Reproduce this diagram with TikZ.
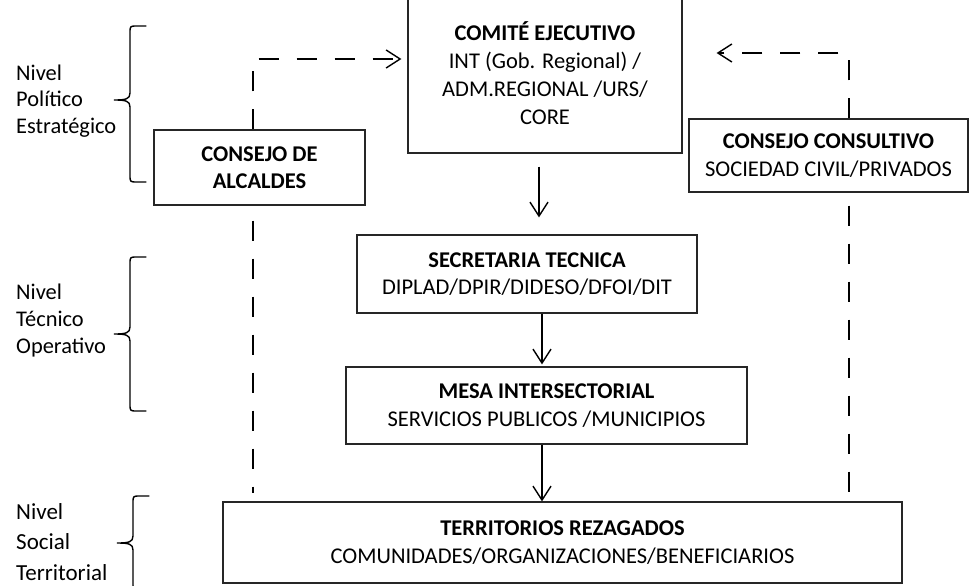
\documentclass[tikz,border=0pt]{standalone}
\usepackage{fontspec}
\setmainfont{Carlito}
\usetikzlibrary{arrows.meta}
\newcommand\drawlevelbrace[3]{%
  \draw[bracestyle] (146,#1) -- (137,#1) .. controls (130,#1) .. (130,#1+7)
    -- (130,#2-7) .. controls (130,#2-1) and (126,#2) .. (114,#2)
    .. controls (126,#2) and (130,#2+1) .. (130,#2+7)
    -- (130,#3-7) .. controls (130,#3) .. (137,#3) -- (146,#3);}
\begin{document}
\begin{tikzpicture}[x=1pt,y=-1pt,
  box/.style={draw=black!85, line width=1.2pt, align=center, inner sep=0pt,
    font=\fontsize{22.5}{27.5}\selectfont},
  lvl/.style={align=left, inner sep=0pt, anchor=base west,
    font=\fontsize{22.4}{26.5}\selectfont},
  tip/.style={-{Straight Barb[length=14pt,width=18pt]}},
  flow/.style={line width=1.4pt, tip},
  dashline/.style={line width=1.4pt, dash pattern=on 20pt off 18pt},
  bracestyle/.style={line width=1.4pt, line cap=round}]
\useasboundingbox (0,0) rectangle (969,586);
\fill[white] (0,0) rectangle (969,586);
\clip (0,0) rectangle (969,586);

% boxes
\node[box, minimum width=274pt, minimum height=160pt, font=\fontsize{22.5}{28}\selectfont] (comite) at (545,73)
  {\textbf{COMITÉ EJECUTIVO}\\INT (Gob. Regional) /\\ADM.REGIONAL /URS/\\CORE};
\node[box, minimum width=211pt, minimum height=75pt] (alc) at (259.5,167.5)
  {\textbf{CONSEJO DE}\\\textbf{ALCALDES}};
\node[box, minimum width=279pt, minimum height=73pt] (cons) at (828.5,155.5)
  {\textbf{CONSEJO CONSULTIVO}\\SOCIEDAD CIVIL/PRIVADOS};
\node[box, minimum width=340pt, minimum height=78pt] (sec) at (527,274)
  {\textbf{SECRETARIA TECNICA}\\DIPLAD/DPIR/DIDESO/DFOI/DIT};
\node[box, minimum width=401pt, minimum height=77pt] (mesa) at (546.5,405.5)
  {\textbf{MESA INTERSECTORIAL}\\SERVICIOS PUBLICOS /MUNICIPIOS};
\node[box, minimum width=679pt, minimum height=81pt] (terr) at (562.5,542.5)
  {\textbf{TERRITORIOS REZAGADOS}\\COMUNIDADES/ORGANIZACIONES/BENEFICIARIOS};

% level labels
\node[lvl] (l1) at (16,133) {Nivel\\Político\\Estratégico};
\node[lvl, font=\fontsize{22.4}{27}\selectfont] (l2) at (16,353) {Nivel\\Técnico\\Operativo};
\node[lvl, font=\fontsize{23}{30.5}\selectfont] (l3) at (16,580) {Nivel\\Social\\Territorial};

% braces
\drawlevelbrace{26}{100}{182}
\drawlevelbrace{257}{334}{411}
\begin{scope}[xshift=3pt]
\drawlevelbrace{496}{543}{590}
\end{scope}

% solid arrows
\coordinate (a1) at (539,0);
\coordinate (a2) at (542,0);
\draw[flow, shorten <=13pt, shorten >=17pt] (comite.south -| a1) -- (sec.north -| a1);
\draw[flow, shorten >=2pt] (sec.south -| a2) -- (mesa.north -| a2);
\draw[flow] (mesa.south -| a2) -- (terr.north -| a2);

% dashed connectors
\coordinate (L) at (253,59);
\coordinate (R) at (849,53);
\draw[dashline, tip, shorten >=6pt] (alc.north -| L) -- (L) -- (comite.west |- L);
\draw[dashline, tip, shorten >=34pt] (cons.north -| R) -- (R) -- (comite.east |- R);
\draw[dashline, shorten <=15pt, shorten >=8pt] (alc.south -| L) -- (terr.north -| L);
\draw[dashline, shorten <=13pt, shorten >=8pt] (cons.south -| R) -- (terr.north -| R);
\end{tikzpicture}
\end{document}
